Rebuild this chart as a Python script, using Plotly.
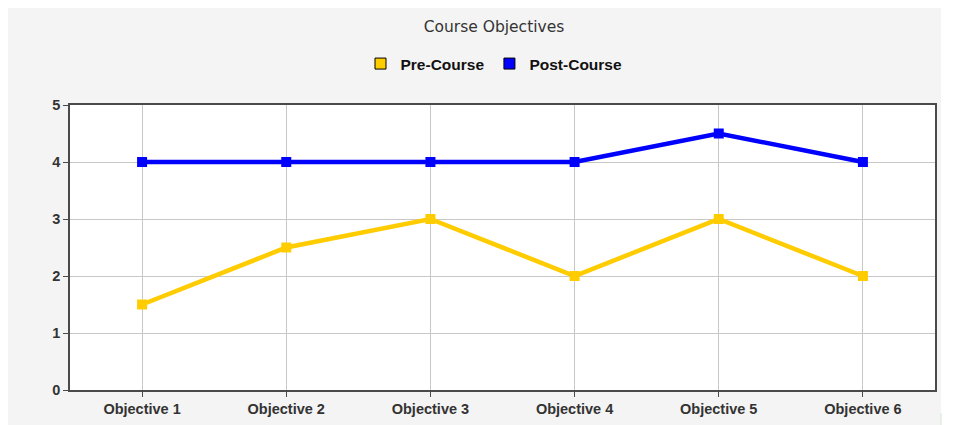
import plotly.graph_objects as go

categories = ["Objective 1", "Objective 2", "Objective 3", "Objective 4", "Objective 5", "Objective 6"]
pre_course = [1.5, 2.5, 3, 2, 3, 2]
post_course = [4, 4, 4, 4, 4.5, 4]
y_ticks = [0, 1, 2, 3, 4, 5]

YELLOW = "#FFCC00"
BLUE = "#0000FF"

# page has an 8px body margin; figure origin sits at (8, 8)
W, H = 959, 425
L, R, T, B = 62, 32, 97, 43
PW, PH = W - L - R, H - T - B

fig = go.Figure()
for name, vals, col in [("Pre-Course", pre_course, YELLOW), ("Post-Course", post_course, BLUE)]:
    fig.add_trace(go.Scatter(
        x=categories, y=vals, mode="lines+markers", name=name, showlegend=False,
        line=dict(color=col, width=4.5),
        marker=dict(symbol="square", size=10, color=col),
        cliponaxis=False,
    ))
for name, col in [("Pre-Course", YELLOW), ("Post-Course", BLUE)]:
    fig.add_trace(go.Scatter(
        x=[None], y=[None], mode="markers", name=name,
        marker=dict(symbol="square", size=11, color=col, line=dict(color="black", width=1)),
    ))

# white strip at right, outside the gray panel
fig.add_shape(type="rect", xref="paper", yref="paper",
              x0=(933 - L) / PW, x1=(W - L) / PW, y0=-B / PH - 0.01, y1=1 + T / PH + 0.01,
              fillcolor="white", line=dict(width=0), layer="below")
fig.add_shape(type="line", xref="paper", yref="paper",
              x0=(933 - L) / PW, x1=(933 - L) / PW, y0=-B / PH, y1=-B / PH + 20 / PH,
              line=dict(color="#cfeccf", width=1), layer="below")

fig.update_layout(
    width=W, height=H,
    margin=dict(l=L, r=R, t=T, b=B),
    paper_bgcolor="#f4f4f4",
    plot_bgcolor="white",
    title=dict(text="Course Objectives", x=(486 - L) / PW, xref="paper", xanchor="center",
               y=1 - 19 / H, yanchor="middle",
               font=dict(family="DejaVu Sans, sans-serif", size=15.5, color="#333333")),
    legend=dict(orientation="h", x=(486 - L) / PW, xanchor="center", y=1 + (T - 56) / PH, yanchor="middle",
                font=dict(family="Liberation Sans, Arial, sans-serif", size=15.5, color="#111111", weight="bold"),
                bgcolor="rgba(0,0,0,0)", traceorder="normal"),
    showlegend=True,
    xaxis=dict(
        type="category", categoryorder="array", categoryarray=categories,
        range=[-0.5, 5.5],
        showgrid=True, gridcolor="#c8c8c8", gridwidth=1,
        showline=True, linecolor="#4a4a4a", linewidth=1.5, mirror=True,
        ticks="outside", ticklen=5, tickcolor="#4a4a4a",
        tickfont=dict(family="Liberation Sans, Arial, sans-serif", size=14.5, color="#333333", weight="bold"),
        zeroline=False, fixedrange=True,
    ),
    yaxis=dict(
        range=[0, 5], tickvals=y_ticks,
        showgrid=True, gridcolor="#c8c8c8", gridwidth=1,
        showline=True, linecolor="#4a4a4a", linewidth=1.5, mirror=True,
        ticks="outside", ticklen=5, tickcolor="#4a4a4a",
        tickfont=dict(family="Liberation Sans, Arial, sans-serif", size=14.5, color="#333333", weight="bold"),
        zeroline=False, fixedrange=True,
    ),
)

fig.write_html("out.html")
